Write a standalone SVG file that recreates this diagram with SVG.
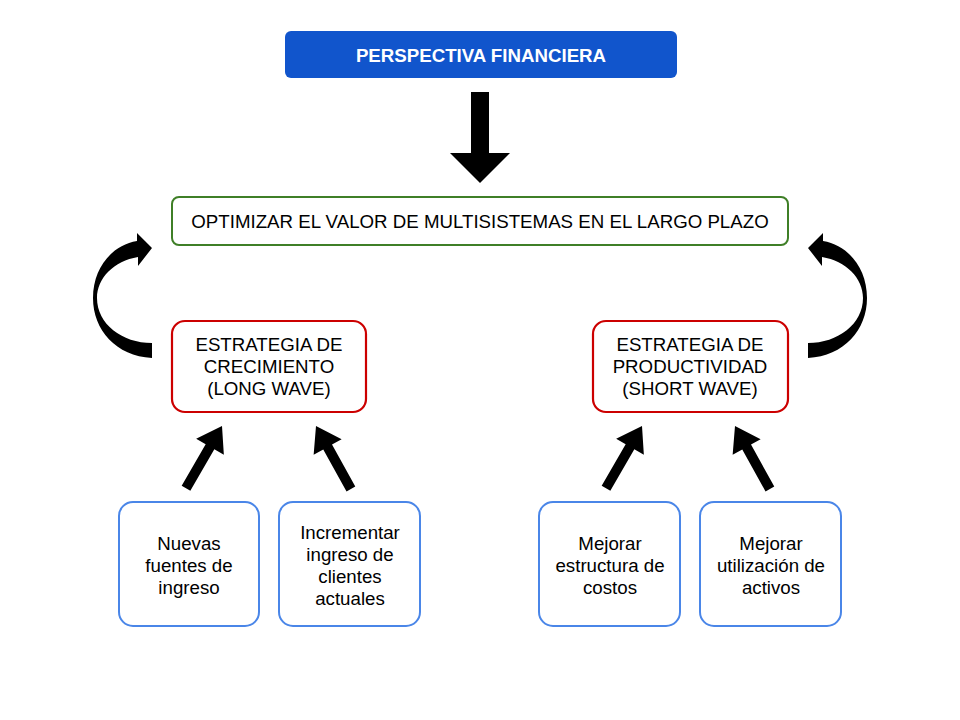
<svg xmlns="http://www.w3.org/2000/svg" width="960" height="720" viewBox="0 0 960 720">
<style>
text{font-family:"Liberation Sans",Arial,sans-serif;font-size:18.7px;fill:#000;text-anchor:middle}
.t{font-weight:bold;fill:#fff}
.red{fill:#fff;stroke:#cc0000;stroke-width:2.2}
.blue{fill:#fff;stroke:#4a86e8;stroke-width:2}
.arr{fill:#000}
</style>
<defs>
<polygon id="da" points="0,0 16,24 5,24 5,72 -5,72 -5,24 -16,24"/>
<path id="ca" d="M152,358 C116,356 93,330 93,298 C93,268 112,245 137,241 L137,233 L152,248 L138,266 L138,257 C114,261 97,278 97,298 C97,324 122,343 152,343 Z"/>
</defs>
<rect width="960" height="720" fill="#fff"/>
<g id="top">
<rect x="285" y="31" width="392" height="47" rx="6" fill="#1155cc"/>
<text class="t" x="481" y="62">PERSPECTIVA FINANCIERA</text>
</g>
<g id="goal">
<rect x="172" y="197" width="616" height="48" rx="7" fill="#fff" stroke="#3f7f27" stroke-width="2"/>
<text x="480" y="228">OPTIMIZAR EL VALOR DE MULTISISTEMAS EN EL LARGO PLAZO</text>
</g>
<g id="growth">
<rect class="red" x="172" y="321" width="194" height="91" rx="13"/>
<text x="269" y="351">ESTRATEGIA DE</text>
<text x="269" y="373">CRECIMIENTO</text>
<text x="269" y="395">(LONG WAVE)</text>
</g>
<g id="productivity">
<rect class="red" x="593" y="321" width="195" height="91" rx="13"/>
<text x="690" y="351">ESTRATEGIA DE</text>
<text x="690" y="373">PRODUCTIVIDAD</text>
<text x="690" y="395">(SHORT WAVE)</text>
</g>
<g id="n1">
<rect class="blue" x="119" y="502" width="140" height="124" rx="14"/>
<text x="189" y="550">Nuevas</text>
<text x="189" y="572">fuentes de</text>
<text x="189" y="594">ingreso</text>
</g>
<g id="n2">
<rect class="blue" x="279" y="502" width="141" height="124" rx="14"/>
<text x="350" y="539">Incrementar</text>
<text x="350" y="561">ingreso de</text>
<text x="350" y="583">clientes</text>
<text x="350" y="605">actuales</text>
</g>
<g id="n3">
<rect class="blue" x="539" y="502" width="141" height="124" rx="14"/>
<text x="610" y="550">Mejorar</text>
<text x="610" y="572">estructura de</text>
<text x="610" y="594">costos</text>
</g>
<g id="n4">
<rect class="blue" x="700" y="502" width="141" height="124" rx="14"/>
<text x="771" y="550">Mejorar</text>
<text x="771" y="572">utilización de</text>
<text x="771" y="594">activos</text>
</g>
<g id="connectors" class="arr">
<polygon points="471,92 489,92 489,153 510,153 480,183 450,153 471,153"/>
<use href="#ca"/>
<use href="#ca" transform="translate(960,0) scale(-1,1)"/>
<use href="#da" transform="translate(222,426) rotate(30)"/>
<use href="#da" transform="translate(316,426) rotate(-29)"/>
<use href="#da" transform="translate(642,426) rotate(30)"/>
<use href="#da" transform="translate(735,426) rotate(-29)"/>
</g>
</svg>
